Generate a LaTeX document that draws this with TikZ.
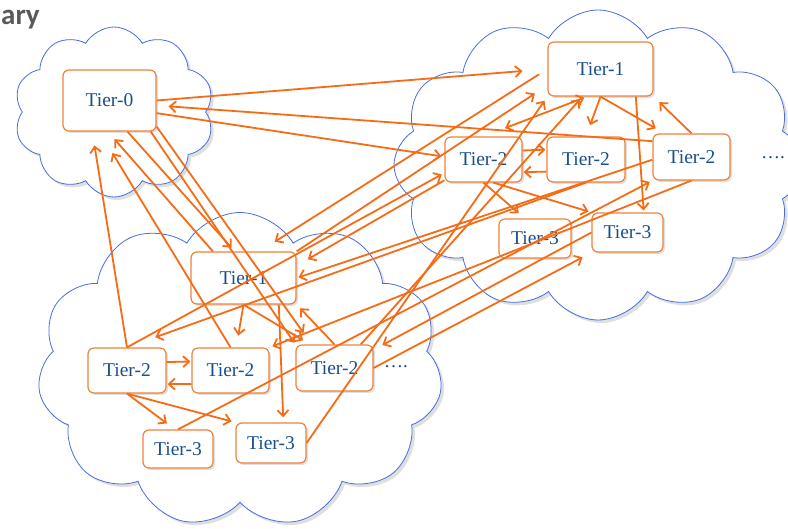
\documentclass[tikz,border=0pt]{standalone}
\usepackage{fontspec}
\setmainfont{Liberation Serif}
\newfontfamily\titlefont{Carlito}
\usetikzlibrary{shapes.symbols,arrows.meta,shadows}
\definecolor{cloudblue}{RGB}{70,110,225}
\definecolor{boxorange}{RGB}{240,130,60}
\definecolor{arroworange}{RGB}{246,108,22}
\definecolor{tiertext}{RGB}{25,80,140}
\definecolor{titlegray}{RGB}{89,89,89}
\begin{document}
\begin{tikzpicture}[x=1pt,y=-1pt,
  cloudshape/.style={cloud, cloud puffs=#1, cloud puff arc=120, draw=cloudblue, line width=0.8pt, fill=white, cloud ignores aspect, inner sep=0pt, drop shadow={opacity=0.25,shadow xshift=3pt,shadow yshift=-3pt}},
  tier/.style={draw=boxorange, line width=1.2pt, fill=white, rounded corners=6pt, text=tiertext, font=\fontsize{19.5}{19.5}\selectfont, drop shadow={opacity=0.25,shadow xshift=2pt,shadow yshift=-2pt}, inner sep=0pt},
  conn/.style={draw=arroworange, line width=1.8pt, -{Straight Barb[length=6pt,width=11pt]}},
  dotsl/.style={text=tiertext, font=\fontsize{19}{19}\selectfont},
]
\useasboundingbox (0,0) rectangle (788,529);
\node[anchor=base west, inner sep=0pt, text=titlegray, font=\titlefont\bfseries\fontsize{29}{29}\selectfont] (title) at (1,25) {ary};
% clouds
\node[cloudshape=12, minimum width=408pt, minimum height=310pt] (c2) at (598,165) {};
\node[cloudshape=11, minimum width=405pt, minimum height=315pt] (c3) at (240,370) {};
\node[cloudshape=10, minimum width=200pt, minimum height=170pt] (c1) at (114,112) {};
% tier boxes
\node[tier, minimum width=93pt, minimum height=61pt] (t0) at (109.5,100.5) {Tier-0};
\node[tier, minimum width=105pt, minimum height=54pt] (t1a) at (600.5,69) {Tier-1};
\node[tier, minimum width=77pt, minimum height=45pt] (t2a) at (483.5,159.5) {Tier-2};
\node[tier, minimum width=78pt, minimum height=45pt] (t2b) at (586,159.5) {Tier-2};
\node[tier, minimum width=77pt, minimum height=46pt] (t2c) at (691.5,157) {Tier-2};
\node[tier, minimum width=72pt, minimum height=39pt] (t3a) at (535,238.5) {Tier-3};
\node[tier, minimum width=71pt, minimum height=39pt] (t3b) at (627.5,232.5) {Tier-3};
\node[tier, minimum width=105pt, minimum height=52pt] (t1b) at (243.5,278) {Tier-1};
\node[tier, minimum width=78pt, minimum height=45pt] (t2d) at (127,370.5) {Tier-2};
\node[tier, minimum width=77pt, minimum height=45pt] (t2e) at (230.5,370.5) {Tier-2};
\node[tier, minimum width=77pt, minimum height=46pt] (t2f) at (334.5,368) {Tier-2};
\node[tier, minimum width=70pt, minimum height=38pt] (t3c) at (178,449) {Tier-3};
\node[tier, minimum width=70pt, minimum height=40pt] (t3d) at (271,443) {Tier-3};
\node[dotsl] (dots1) at (773,158) {….};
\node[dotsl] (dots2) at (396,367) {….};
% connectors: top-right cloud
\draw[conn, shorten >=12pt] (t1a.south) -- (t2b.north);
\draw[conn, shorten >=10pt] (t1a.south) -- (t2c.139);
\draw[conn, shorten >=8pt] (t2c.north) -- (t1a.south east);
\draw[conn, {Straight Barb[length=6pt,width=11pt]}-{Straight Barb[length=6pt,width=11pt]}, shorten >=23pt, shorten <=3pt] (t1a.244) -- (t2a.north);
\draw[conn, shorten >=2pt] (t1a.-38) -- (t3b.51.5);
\draw[conn, shorten >=1pt] (t2a.13.9) -- (t2b.166.3);
\draw[conn, shorten >=1pt] (t2b.197.8) -- (t2a.-18);
\draw[conn, shorten >=8pt] (t2a.south) -- (t3a.117);
\draw[conn, shorten >=3pt] (t2a.-67) -- (t3b.north west);
% Tier-0
\draw[conn, shorten >=25pt] (t0.east) -- (t1a.west);
\draw[conn, shorten >=12pt] (t2c.158.7) -- (t0.-6.7);
\draw[conn, shorten >=3pt] (t0.-15) -- (t2a.176.3);
\draw[conn, shorten >=5pt] (t0.-60.2) -- (t1b.108);
\draw[conn, shorten >=2pt] (t0.-37) -- (t2f.north west);
\draw[conn, shorten >=14pt] (t0.-29.7) -- (t2f.134.4);
\draw[conn, shorten >=14pt] (t2d.north) -- (t0.241.6);
\draw[conn, shorten >=10pt] (t1b.139.6) -- (t0.267);
\draw[conn, shorten >=25pt] (t2e.north) -- (t0.252.7);
% into / out of Tier-1 (bottom-left)
\draw[conn, shorten <=10pt, shorten >=18pt] (t1a.west) -- (t1b.59.2);
\draw[conn, shorten >=13pt] (t2a.208) -- (t1b.13.9);
\draw[conn, shorten >=2pt] (t2c.184.5) -- (t1b.east);
\draw[conn, shorten >=5pt] (t2f.north) -- (t1b.south east);
\draw[conn, shorten >=12pt] (t1b.south) -- (t2e.76.5);
\draw[conn, shorten >=8pt] (t1b.south) -- (t2f.136.8);
\draw[conn, shorten >=5pt] (t1b.-37.8) -- (t3d.59);
\draw[conn, shorten >=15pt] (t1b.north east) -- (t1a.197);
\draw[conn, shorten >=3pt] (t2c.south) -- (t2e.north east);
% bottom-left cloud
\draw[conn, shorten >=1pt] (t2d.12.3) -- (t2e.167.5);
\draw[conn, shorten >=1pt] (t2e.199.3) -- (t2d.-19.1);
\draw[conn, shorten >=10pt] (t2d.south) -- (t3c.99);
\draw[conn, shorten >=4pt] (t2d.south) -- (t3d.north west);
\draw[conn, shorten >=3pt] (t2d.north) -- (t2a.199.3);
\draw[conn, shorten >=30pt] (t2b.south) -- (t2d.north);
\draw[conn, shorten >=3pt] (t3c.north) -- (t2c.south west);
\draw[conn, shorten >=5pt] (t3d.east) -- (t1a.south west);
\draw[conn, shorten >=4pt] (t2f.42) -- (t1a.237);
\draw[conn, shorten >=10pt] (t3b.west) -- (t2f.25);
\draw[conn, shorten >=10pt] (t2f.east) -- (t3b.south west);
\end{tikzpicture}
\end{document}
